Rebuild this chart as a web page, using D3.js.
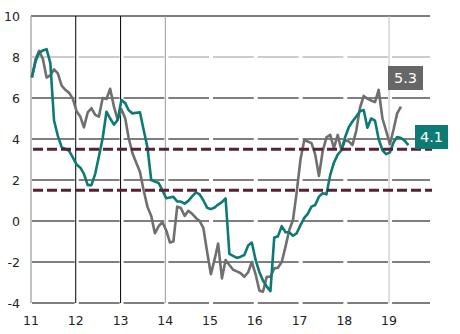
<!DOCTYPE html>
<html>
<head>
<meta charset="utf-8">
<title>chart</title>
<style type="text/css">
body { margin: 0; background: #fff; }
text { font-family: "DejaVu Sans", sans-serif; }
</style>
<script src="https://cdnjs.cloudflare.com/ajax/libs/d3/7.8.5/d3.min.js"></script>
</head>
<body>
<div id="chart"></div>
<script>
// year labels along the bottom
var years = ['11', '12', '13', '14', '15', '16', '17', '18', '19'];
var yTicks = [-4, -2, 0, 2, 4, 6, 8, 10];
var bandLevels = [1.5, 3.5];
var endLabels = ['5.3', '4.1'];

// monthly values from Jan 2011
var greyValues = [
  7.0, 7.9, 8.3, 7.9, 7.0, 7.1, 7.4, 7.2, 6.6, 6.4,
  6.25, 5.97, 5.35, 5.08, 4.57, 5.3, 5.5, 5.18, 5.09, 6.0,
  5.95, 6.45, 5.58, 4.95, 5.45, 5.0, 4.05, 3.3, 2.85, 2.4,
  1.5, 0.7, 0.25, -0.6, -0.25, -0.05, -0.45, -1.05, -1.0, 0.7,
  0.63, 0.25, 0.5, 0.35, 0.15, 0.0, -0.35, -1.5, -2.6, -1.85,
  -1.1, -2.8, -1.9, -2.15, -2.38, -2.46, -2.55, -2.72, -2.5, -2.0,
  -2.6, -3.4, -3.45, -2.72, -2.72, -2.31, -2.28, -2.0, -1.25, -0.45,
  0.05, 1.4, 3.0, 3.95, 3.88, 3.8, 3.25, 2.2, 3.4, 4.08,
  4.2, 3.55, 4.2, 3.46, 3.95, 3.87, 3.7, 4.4, 5.5, 6.1,
  5.97, 5.88, 5.8, 6.4, 5.0, 4.4, 3.75, 4.5, 5.25, 5.58
];

var tealValues = [
  7.0, 7.8, 8.2, 8.32, 8.38, 7.7, 4.9, 4.15, 3.6, 3.52,
  3.42, 3.1, 2.75, 2.6, 2.3, 1.75, 1.75, 2.3, 3.15, 4.05,
  5.33, 5.0, 4.7, 4.93, 5.9, 5.75, 5.4, 5.25, 5.28, 5.3,
  4.45, 3.6, 2.0, 1.92, 1.85, 1.5, 1.11, 1.15, 1.18, 0.95,
  0.95, 0.85, 0.98, 1.2, 1.4, 1.3, 1.0, 0.65, 0.58, 0.66,
  0.8, 0.92, 1.1, -1.6, -1.7, -1.8, -1.74, -1.66, -1.2, -1.05,
  -1.9, -2.5, -2.9, -3.2, -3.42, -0.8, -0.75, -0.25, -0.55, -0.55,
  -0.72, -0.6, -0.2, 0.15, 0.35, 0.7, 0.78, 1.19, 1.35, 1.3,
  2.25, 2.85, 3.24, 3.45, 4.1, 4.6, 4.85, 5.1, 5.35, 5.41,
  4.55, 5.0, 4.9, 4.0, 3.45, 3.26, 3.35, 3.85, 4.1, 4.05,
  3.92, 3.7
];

var width = 460, height = 334;
var plotLeft = 31, plotRight = 430, plotTop = 16, plotBottom = 303;

var svg = d3.select('#chart').append('svg')
    .attr('width', width)
    .attr('height', height);

var x = d3.scaleTime()
    .domain([new Date(2011, 0, 1), new Date(2019, 11, 1)])
    .range([plotLeft, plotRight]);

var y = d3.scaleLinear()
    .domain([-4, 10])
    .range([plotBottom, plotTop]);

function yearDate(i) {
  return new Date(2011 + i, 0, 1);
}

// horizontal grid, broken at each year
var grid = svg.append('g');
yTicks.forEach(function(v) {
  var colour = v === 8 ? '#9a9a9a' : '#000';
  if (v === 10) {
    grid.append('line')
        .attr('x1', plotLeft).attr('x2', plotRight)
        .attr('y1', y(v)).attr('y2', y(v))
        .attr('stroke', colour).attr('stroke-width', 1.2);
    return;
  }
  years.forEach(function(label, i) {
    var x1 = x(yearDate(i)) + (i === 0 ? 1 : 3);
    var x2 = i === years.length - 1 ? plotRight : x(yearDate(i + 1)) - 1;
    grid.append('line')
        .attr('x1', x1).attr('x2', x2)
        .attr('y1', y(v)).attr('y2', y(v))
        .attr('stroke', colour).attr('stroke-width', 1.2);
  });
});

// vertical year lines
var vLines = [[1, '#000'], [2, '#000'], [3, '#9a9a9a'], [8, '#bdbdbd']];
vLines.forEach(function(d) {
  grid.append('line')
      .attr('x1', x(yearDate(d[0]))).attr('x2', x(yearDate(d[0])))
      .attr('y1', plotTop).attr('y2', plotBottom)
      .attr('stroke', d[1]).attr('stroke-width', 1);
});

grid.append('line')
    .attr('x1', plotLeft).attr('x2', plotLeft)
    .attr('y1', plotTop).attr('y2', plotBottom)
    .attr('stroke', '#9a9a9a').attr('stroke-width', 1.2);

// axis labels
svg.append('g').selectAll('text')
    .data(yTicks)
    .enter()
    .append('text')
    .attr('x', 20)
    .attr('y', function(d) { return y(d); })
    .attr('dy', '0.36em')
    .attr('text-anchor', 'end')
    .attr('font-size', 12.5)
    .attr('fill', '#222')
    .text(function(d) { return d; });

svg.append('g').selectAll('text')
    .data(years)
    .enter()
    .append('text')
    .attr('x', function(d, i) { return x(yearDate(i)); })
    .attr('y', 325)
    .attr('text-anchor', 'middle')
    .attr('font-size', 12.5)
    .attr('fill', '#222')
    .text(function(d) { return d; });

// series
var line = d3.line()
    .x(function(d, i) { return x(new Date(2011, i, 8)); })
    .y(function(d) { return y(d); });

svg.append('path')
    .datum(greyValues)
    .attr('d', line)
    .attr('fill', 'none')
    .attr('stroke', '#6f6f6f')
    .attr('stroke-width', 2.6)
    .attr('stroke-linejoin', 'round');

svg.append('path')
    .datum(tealValues)
    .attr('d', line)
    .attr('fill', 'none')
    .attr('stroke', '#0d7a73')
    .attr('stroke-width', 2.6)
    .attr('stroke-linejoin', 'round');

// dashed band
svg.append('g').selectAll('line')
    .data(bandLevels)
    .enter()
    .append('line')
    .attr('x1', plotLeft + 2).attr('x2', plotRight + 2)
    .attr('y1', function(d) { return y(d); })
    .attr('y2', function(d) { return y(d); })
    .attr('stroke', '#552239')
    .attr('stroke-width', 3)
    .attr('stroke-dasharray', '10,4');

// end value boxes
var boxes = [
  {text: endLabels[0], fill: '#666666', x: 388, y: 66, w: 35},
  {text: endLabels[1], fill: '#0d7a73', x: 415, y: 125, w: 33}
];

var box = svg.append('g').selectAll('g')
    .data(boxes)
    .enter()
    .append('g')
    .attr('transform', function(d) { return 'translate(' + d.x + ',' + d.y + ')'; });

box.append('rect')
    .attr('width', function(d) { return d.w; })
    .attr('height', 24)
    .attr('fill', function(d) { return d.fill; });

box.append('text')
    .attr('x', function(d) { return d.w / 2; })
    .attr('y', 12)
    .attr('dy', '0.36em')
    .attr('text-anchor', 'middle')
    .attr('font-size', 14.5)
    .attr('fill', '#fff')
    .text(function(d) { return d.text; });
</script>
</body>
</html>
